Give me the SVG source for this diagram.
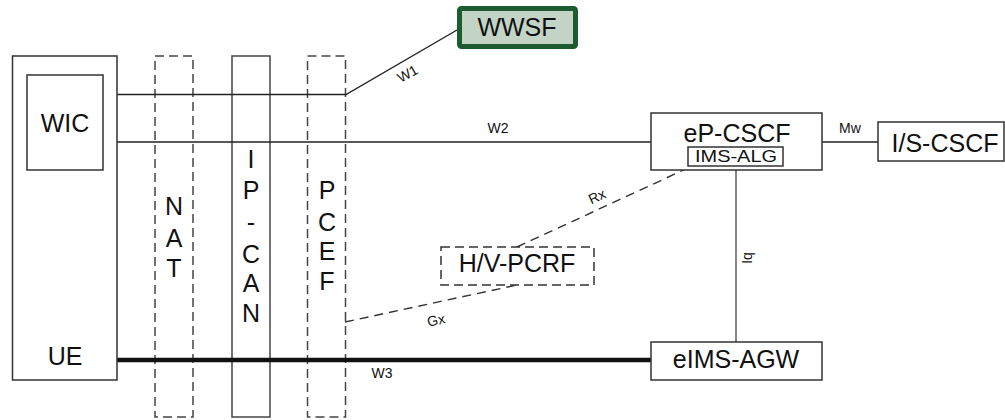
<svg xmlns="http://www.w3.org/2000/svg" width="1005" height="420" viewBox="0 0 1005 420">
<style>
.box{fill:#fff;stroke:#333;stroke-width:1.5}
.col{fill:none;stroke:#444;stroke-width:1.5}
.dash{stroke-dasharray:9 5}
.ln{fill:none;stroke:#222;stroke-width:1.4}
.dl{fill:none;stroke:#333;stroke-width:1.4;stroke-dasharray:9 6}
.big{font-family:"Liberation Sans",Arial,sans-serif;font-size:25px;fill:#111;text-anchor:middle}
.sm{font-family:"Liberation Sans",Arial,sans-serif;font-size:14px;fill:#111;text-anchor:middle}
</style>
<rect width="1005" height="420" fill="#fff"/>
<g id="columns">
<g id="nat"><rect class="col dash" x="155" y="56" width="38" height="361"/>
<text class="big" x="174" y="215">N</text><text class="big" x="174" y="247">A</text><text class="big" x="174" y="277">T</text></g>
<g id="ipcan"><rect class="col" x="232" y="56" width="38" height="361"/>
<text class="big" x="251" y="168">I</text><text class="big" x="251" y="199">P</text><text class="big" x="251" y="231">-</text><text class="big" x="251" y="263">C</text><text class="big" x="251" y="292">A</text><text class="big" x="251" y="322">N</text></g>
<g id="pcef"><rect class="col dash" x="307.5" y="56" width="38" height="361"/>
<text class="big" x="327" y="199">P</text><text class="big" x="327" y="231">C</text><text class="big" x="327" y="260">E</text><text class="big" x="327" y="290">F</text></g>
</g>
<g id="connectors">
<polyline class="ln" points="117,94.5 346,94.5 457,30"/>
<line class="ln" x1="117" y1="142" x2="651" y2="142"/>
<line class="ln" x1="822" y1="142" x2="878" y2="142"/>
<line class="ln" x1="736" y1="170" x2="736" y2="342" style="stroke:#555"/>
<line class="dl" x1="517" y1="247" x2="690" y2="167"/>
<line class="dl" x1="345" y1="322" x2="517" y2="285"/>
<line x1="117" y1="360" x2="651" y2="360" stroke="#111" stroke-width="4.5"/>
<text class="sm" transform="translate(410,78) rotate(-29)">W1</text>
<text class="sm" x="498" y="133">W2</text>
<text class="sm" x="850" y="133">Mw</text>
<text class="sm" transform="translate(599,201) rotate(-25)">Rx</text>
<text class="sm" transform="translate(437,325) rotate(-12)">Gx</text>
<text class="sm" x="382" y="378">W3</text>
<text class="sm" transform="translate(752,258) rotate(-90)">Iq</text>
</g>
<g id="ue"><rect class="box" x="12.5" y="56" width="104.5" height="324" style="fill:none"/>
<text class="big" x="65" y="365">UE</text></g>
<g id="wic"><rect class="box" x="27" y="75" width="76" height="95"/>
<text class="big" x="65" y="132">WIC</text></g>
<g id="wwsf"><rect x="459.5" y="8.5" width="116" height="38" rx="2" fill="#c3d4c7" stroke="#1e5b30" stroke-width="5"/>
<text class="big" x="517" y="36">WWSF</text></g>
<g id="epcscf"><rect class="box" x="651" y="113" width="171" height="57"/>
<text class="big" x="737" y="142">eP-CSCF</text>
<rect class="box" x="688" y="147" width="95" height="19"/>
<text class="big" x="736" y="162" style="font-size:17px" textLength="82" lengthAdjust="spacingAndGlyphs">IMS-ALG</text></g>
<g id="iscscf"><rect class="box" x="878" y="122" width="126" height="39"/>
<text class="big" x="945" y="152">I/S-CSCF</text></g>
<g id="pcrf"><rect class="box dash" x="441" y="247" width="153" height="38"/>
<text class="big" x="517" y="272">H/V-PCRF</text></g>
<g id="eimsagw"><rect class="box" x="651" y="342" width="171" height="38"/>
<text class="big" x="736" y="368">eIMS-AGW</text></g>
</svg>
